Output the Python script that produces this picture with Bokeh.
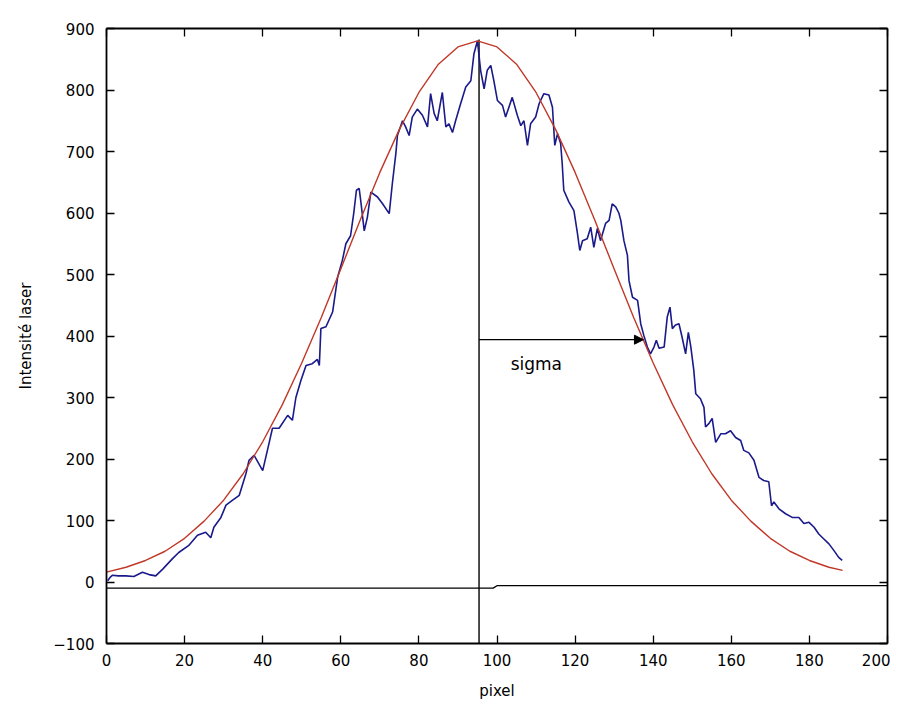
from bokeh.plotting import figure
from bokeh.models import LinearAxis, Range1d, Arrow, NormalHead, FixedTicker, CustomJSTickFormatter
from bokeh.embed import file_html
from bokeh.resources import INLINE
from bokeh.core.properties import value

# ---- data ----
blue_x = [0.3, 1.0, 1.5, 3, 5, 7, 9.2, 10.9, 12.6, 14.4, 16.9, 18.5, 21, 23.3, 25.4, 26.7, 27.5, 29.3,
          30.6, 32.3, 34, 35.7, 36.5, 37.8, 40, 41.6, 42.5, 44.2, 46.4, 47.6, 48.5, 49.8, 51.1, 52.7,
          54, 54.5, 54.9, 56.2, 57.9, 59.2, 60.4, 61.3, 62.5, 63.3, 64, 64.7, 65.1, 66, 66.8, 67.7,
          69.4, 70.7, 72.4, 73.2, 74.1, 74.5, 75.8, 76.6, 77.5, 78.3, 79.6, 80.9, 82.2, 83, 83.9,
          84.7, 86, 86.9, 87.7, 88.6, 89.4, 90.7, 92, 93.3, 94.1, 95, 95.8, 96.7, 97.5, 98.4, 99.2,
          100.1, 101.4, 102.2, 103.9, 105.2, 106.1, 106.9, 107.8, 108.6, 109.9, 110.8, 112, 113.3,
          114.2, 114.8, 115.5, 116.3, 116.7, 117.1, 118.4, 119.7, 120.6, 121.2, 121.9, 123.1, 124,
          124.8, 125.7, 126.5, 127.8, 128.7, 129.5, 130.4, 131.2, 131.7, 132.5, 133.4, 133.8, 134.7,
          136, 136.8, 137.6, 138.5, 139.3, 140.2, 140.8, 141.5, 142.8, 143.6, 144.3, 144.9, 145.7,
          146.6, 147.4, 148.3, 149, 149.6, 150.4, 150.9, 152.1, 153, 153.4, 154.3, 155.1, 156,
          157.3, 158.5, 159.8, 161.1, 162.4, 163.2, 164.5, 165.8, 167.1, 168.3, 169.6, 170.3, 170.9,
          172.2, 173.9, 175.6, 177.3, 178.6, 179.9, 181.2, 182.4, 183.7, 185, 186.3, 187.5, 188.4]
blue_y = [2, 8, 11, 10, 10, 9, 16, 12, 10, 21, 38, 48, 59, 76, 81, 72, 89, 105,
          125, 133, 141, 176, 198, 206, 181, 225, 250, 250, 271, 263, 300, 328, 352, 355,
          362, 352, 412, 415, 439, 496, 523, 550, 563, 599, 637, 640, 620, 571, 593, 634,
          626, 615, 599, 648, 697, 726, 750, 740, 726, 756, 769, 759, 740, 794, 762,
          750, 796, 740, 745, 731, 750, 778, 805, 815, 859, 880, 832, 802, 832, 840, 815,
          783, 775, 756, 788, 759, 742, 750, 710, 745, 756, 778, 794, 792,
          772, 710, 729, 713, 680, 637, 618, 604, 567, 539, 555, 558, 577,
          544, 575, 555, 583, 588, 615, 610, 600, 588, 555, 531, 490, 463,
          458, 420, 401, 382, 371, 382, 393, 380, 382, 431, 447, 412, 418,
          420, 398, 371, 406, 384, 344, 306, 298, 284, 252, 258, 266, 227,
          241, 241, 246, 235, 230, 214, 210, 198, 170, 165, 163, 124, 130,
          119, 111, 105, 105, 95, 97, 89, 78, 70, 62, 51, 40, 35]

red_x = [0, 5, 10, 15, 20, 25, 30, 35, 40, 45, 50, 55, 60, 65, 70, 75, 80, 85, 90, 95,
         100, 105, 110, 115, 120, 125, 130, 135, 140, 145, 150, 155, 160, 165, 170, 175, 180, 185, 188.5]
red_y = [16, 24, 35, 50, 71, 99, 133, 176, 228, 288, 356, 430, 509, 589, 666, 736, 796, 842, 870, 880,
         870, 842, 796, 736, 666, 589, 509, 430, 356, 288, 228, 176, 133, 99, 71, 50, 35, 24, 19]

center_x = [95.4, 95.4]
center_y = [-100, 882]

base_x = [0, 99, 100, 200]
base_y = [-10, -10, -6, -6]

sigma_start = (95.4, 394)
sigma_end = (137.5, 394)

note_x = [103.5]
note_y = [355]
note_text = ["sigma"]

x_ticks = [0, 20, 40, 60, 80, 100, 120, 140, 160, 180, 200]
y_ticks = [-100, 0, 100, 200, 300, 400, 500, 600, 700, 800, 900]

x_title = "pixel"
y_title = "Intensité laser"

FONT = "DejaVu Sans"

p = figure(width=890, height=704, x_range=Range1d(0, 200), y_range=Range1d(-100, 900),
           output_backend="svg", toolbar_location=None,
           min_border_left=106, min_border_top=28, min_border_right=3, min_border_bottom=61)
p.grid.visible = False
p.outline_line_color = None
p.background_fill_color = "white"
p.border_fill_color = "white"

blank = CustomJSTickFormatter(code="return ''")
top_ax = LinearAxis()
right_ax = LinearAxis()
p.add_layout(top_ax, "above")
p.add_layout(right_ax, "right")

bottom_ax = p.below[0]
left_ax = p.left[0]

for ax in (bottom_ax, top_ax):
    ax.ticker = FixedTicker(ticks=x_ticks)
for ax in (left_ax, right_ax):
    ax.ticker = FixedTicker(ticks=y_ticks)

for ax in (bottom_ax, top_ax, left_ax, right_ax):
    ax.major_tick_in = 8
    ax.major_tick_out = 0
    ax.minor_tick_line_color = None
    ax.axis_line_width = 1.8
    ax.axis_line_color = "black"
    ax.major_tick_line_color = "black"
    ax.major_tick_line_width = 1.3
    ax.major_label_text_font = FONT
    ax.major_label_text_font_size = "15px"
    ax.major_label_text_color = "black"
    ax.axis_label_text_font = FONT
    ax.axis_label_text_font_size = "15px"
    ax.axis_label_text_font_style = "normal"
    ax.axis_label_text_color = "black"

for ax in (top_ax, right_ax):
    ax.formatter = blank
    ax.major_label_standoff = 0
    ax.major_label_text_font_size = "1px"

bottom_ax.major_label_standoff = 10
bottom_ax.axis_label = x_title
bottom_ax.axis_label_standoff = 13
left_ax.major_label_standoff = 12
left_ax.axis_label = y_title
left_ax.axis_label_standoff = 15

# baseline and centre line
p.line(base_x, base_y, line_color="black", line_width=1.3)
p.line(center_x, center_y, line_color="black", line_width=1.4)

# measured profile and fit
p.line(blue_x, blue_y, line_color="#1a1a8a", line_width=1.6)
p.line(red_x, red_y, line_color="#c03828", line_width=1.4)

# sigma arrow
p.add_layout(Arrow(end=NormalHead(size=9, fill_color="black", line_color="black"),
                   x_start=sigma_start[0], y_start=sigma_start[1],
                   x_end=sigma_end[0], y_end=sigma_end[1],
                   line_color="black", line_width=1.2))
p.text(x=note_x, y=note_y, text=note_text, text_font=value(FONT), text_font_size="17px",
       text_baseline="middle", text_align="left", text_color="black")

open("out.html", "w").write(file_html(p, INLINE))
